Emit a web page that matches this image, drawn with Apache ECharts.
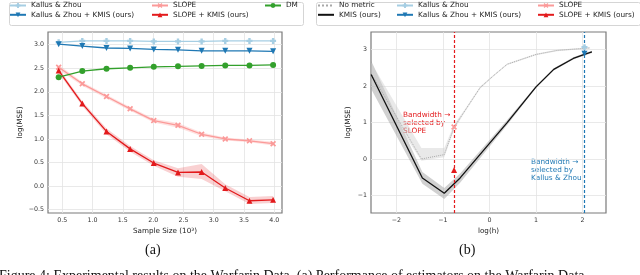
<!DOCTYPE html>
<html><head><meta charset="utf-8">
<script src="https://cdn.jsdelivr.net/npm/echarts@6/dist/echarts.min.js"></script>
<style>html,body{margin:0;padding:0;background:#fff}#c{width:640px;height:275px}</style>
</head><body><div id="c"></div>
<script>
// ---------- Panel (a) data ----------
const sampleSize = [0.44, 0.83, 1.23, 1.62, 2.01, 2.41, 2.80, 3.19, 3.59, 3.98];
const kz        = [3.05, 3.08, 3.08, 3.08, 3.07, 3.07, 3.07, 3.08, 3.08, 3.08];
const kzKmis    = [3.01, 2.97, 2.93, 2.92, 2.90, 2.89, 2.87, 2.87, 2.87, 2.86];
const dm        = [2.31, 2.44, 2.49, 2.51, 2.53, 2.54, 2.55, 2.56, 2.56, 2.57];
const slope     = [2.52, 2.17, 1.90, 1.64, 1.39, 1.29, 1.10, 1.00, 0.96, 0.90];
const slopeLo   = [2.47, 2.13, 1.86, 1.60, 1.35, 1.24, 1.06, 0.97, 0.93, 0.86];
const slopeHi   = [2.57, 2.21, 1.94, 1.68, 1.43, 1.34, 1.14, 1.03, 0.99, 0.94];
const slopeKmis   = [2.45, 1.75, 1.16, 0.79, 0.49, 0.29, 0.30, -0.04, -0.31, -0.29];
const slopeKmisLo = [2.40, 1.70, 1.10, 0.73, 0.43, 0.20, 0.15, -0.11, -0.38, -0.36];
const slopeKmisHi = [2.50, 1.80, 1.22, 0.85, 0.55, 0.38, 0.47, 0.04, -0.23, -0.21];
const aXTicks = [0.5, 1.0, 1.5, 2.0, 2.5, 3.0, 3.5, 4.0];
const aYTicks = [-0.5, 0.0, 0.5, 1.0, 1.5, 2.0, 2.5, 3.0];

// ---------- Panel (b) data ----------
const kmisX  = [-2.54, -1.44, -0.97, -0.63, 0.38, 1.00, 1.38, 1.80, 2.04, 2.20];
const kmisY  = [2.32, -0.52, -0.94, -0.52, 1.00, 1.98, 2.46, 2.76, 2.87, 2.94];
const kmisLo = [1.92, -0.68, -1.10, -0.65, 0.93, 1.95, 2.43, 2.73, 2.84, 2.91];
const kmisHi = [2.70, -0.36, -0.80, -0.40, 1.07, 2.01, 2.49, 2.79, 2.90, 2.97];
const nmX  = [-2.54, -1.46, -0.97, -0.76, -0.53, -0.20, 0.08, 0.38, 1.00, 1.45, 2.16];
const nmY  = [2.35, 0.00, 0.12, 0.87, 1.32, 1.96, 2.28, 2.60, 2.87, 2.98, 3.05];
const nmLo = [2.05, -0.05, 0.05, 0.80, 1.28, 1.93, 2.26, 2.58, 2.85, 2.96, 3.03];
const nmHi = [2.65, 0.30, 0.30, 0.95, 1.36, 1.99, 2.30, 2.62, 2.89, 3.00, 3.07];
const kzBw = 2.04, kzBwMse = 3.07, kzKmisBwMse = 2.89;
const slopeBw = -0.76, slopeBwMse = 0.88, slopeKmisBwMse = -0.30;
const bXTicks = [-2, -1, 0, 1, 2];
const bYTicks = [-1, 0, 1, 2, 3];

const C = {kz:'#a6cee3', kzK:'#1f78b4', sl:'#fb9a99', slK:'#e31a1c', dm:'#33a02c'};
const FONT = 'DejaVu Sans';
const minus = v => String(v).replace('-', '\u2212');
const plusPath = 'path://M3,0H7V3H10V7H7V10H3V7H0V3H3Z';
const xPath = 'path://M2,0L5,3L8,0L10,2L7,5L10,8L8,10L5,7L2,10L0,8L3,5L0,2Z';

function band(xs, lo, hi, color, op, xi, yi, z) {
  return {
    type: 'custom', xAxisIndex: xi, yAxisIndex: yi, z: z || 1, silent: true,
    clip: true,
    data: xs.map((x, i) => [x, lo[i], hi[i]]),
    encode: {x: 0, y: [1, 2]},
    renderItem: (params, api) => {
      if (params.dataIndex !== 0) return null;
      const pts = [];
      for (let i = 0; i < xs.length; i++) pts.push(api.coord([xs[i], hi[i]]));
      for (let i = xs.length - 1; i >= 0; i--) pts.push(api.coord([xs[i], lo[i]]));
      return {type: 'polygon', shape: {points: pts}, style: {fill: color, opacity: op}};
    }
  };
}
function lineS(name, xs, ys, color, symbol, size, xi, yi, extra) {
  return Object.assign({
    name, type: 'line', xAxisIndex: xi, yAxisIndex: yi,
    data: xs.map((x, i) => [x, ys[i]]),
    symbol, symbolSize: size, showSymbol: true,
    lineStyle: {color, width: 1.3}, itemStyle: {color},
    z: 3, animation: false
  }, extra || {});
}

const axisCommon = {
  axisLine: {show: false},
  axisTick: {show: false},
  splitLine: {show: true, lineStyle: {color: '#e3e3e3', width: 0.8}},
  nameTextStyle: {fontFamily: FONT, fontSize: 7.2, color: '#222'}
};
function xAx(grid, min, max, ticks, name, fmt) {
  return Object.assign({}, axisCommon, {
    type: 'value', gridIndex: grid, min, max, name, nameLocation: 'middle', nameGap: 14,
    axisTick: {show: false, customValues: ticks},
    axisLabel: {customValues: ticks, formatter: fmt, fontFamily: FONT, fontSize: 6.3, color: '#333', margin: 4}
  });
}
function yAx(grid, min, max, ticks, name, fmt, gap) {
  return Object.assign({}, axisCommon, {
    type: 'value', gridIndex: grid, min, max, name, nameLocation: 'middle', nameGap: gap,
    axisTick: {show: false, customValues: ticks},
    axisLabel: {customValues: ticks, formatter: fmt, fontFamily: FONT, fontSize: 6.3, color: '#333', margin: 4}
  });
}
const legText = {fontFamily: FONT, fontSize: 7.3, color: '#222'};
function leg(names, left, top) {
  return {orient: 'vertical', left, top, itemWidth: 16, itemHeight: 6, itemGap: 2.3,
    padding: 0, textStyle: legText, data: names, selectedMode: false};
}

const chart = echarts.init(document.getElementById('c'), null, {renderer: 'canvas'});
const fmtA = v => minus(v.toFixed(1));
const fmtB = v => minus(v.toFixed(0));

chart.setOption({
  animation: false,
  grid: [
    {left: 48, top: 32, width: 234, height: 181, show: true, borderColor: '#7a7a7a', borderWidth: 1.2, backgroundColor: 'transparent'},
    {left: 371, top: 32, width: 235, height: 181, show: true, borderColor: '#7a7a7a', borderWidth: 1.2, backgroundColor: 'transparent'}
  ],
  xAxis: [
    xAx(0, 0.264, 4.127, aXTicks, 'Sample Size (10\u00b3)', fmtA),
    xAx(1, -2.543, 2.502, bXTicks, 'log(h)', fmtB)
  ],
  yAxis: [
    yAx(0, -0.570, 3.269, aYTicks, 'log(MSE)', fmtA, 24),
    yAx(1, -1.483, 3.486, bYTicks, 'log(MSE)', fmtB, 19)
  ],
  legend: [
    leg(['Kallus & Zhou', 'Kallus & Zhou + KMIS (ours)'], 9, 2),
    leg(['SLOPE', 'SLOPE + KMIS (ours)'], 151, 2),
    leg(['DM'], 264, 2),
    leg(['No metric', 'KMIS (ours)'], 317, 2),
    leg(['Kallus & Zhou', 'Kallus & Zhou + KMIS (ours)'], 396, 2),
    leg(['SLOPE', 'SLOPE + KMIS (ours)'], 537, 2)
  ],
  series: [
    band(sampleSize, slopeLo, slopeHi, C.sl, 0.3, 0, 0),
    band(sampleSize, slopeKmisLo, slopeKmisHi, C.slK, 0.2, 0, 0),
    lineS('Kallus & Zhou', sampleSize, kz, C.kz, plusPath, 6, 0, 0),
    lineS('Kallus & Zhou + KMIS (ours)', sampleSize, kzKmis, C.kzK, 'triangle', 6, 0, 0, {symbolRotate: 180}),
    lineS('SLOPE', sampleSize, slope, C.sl, xPath, 6, 0, 0),
    lineS('SLOPE + KMIS (ours)', sampleSize, slopeKmis, C.slK, 'triangle', 6, 0, 0),
    lineS('DM', sampleSize, dm, C.dm, 'circle', 6, 0, 0),

    band(kmisX, kmisLo, kmisHi, '#9a9a9a', 0.45, 1, 1),
    band(nmX, nmLo, nmHi, '#cfcfcf', 0.45, 1, 1),
    lineS('No metric', nmX, nmY, '#a8a8a8', 'none', 0, 1, 1, {lineStyle: {color: '#a8a8a8', width: 1, type: 'dotted'}, itemStyle: {color: 'rgba(0,0,0,0)'}}),
    lineS('KMIS (ours)', kmisX, kmisY, '#111', 'none', 0, 1, 1, {lineStyle: {color: '#111', width: 1.3}, itemStyle: {color: 'rgba(0,0,0,0)'}}),
    lineS('Kallus & Zhou', [kzBw], [kzBwMse], C.kz, plusPath, 6, 1, 1, {z: 5}),
    lineS('Kallus & Zhou + KMIS (ours)', [kzBw], [kzKmisBwMse], C.kzK, 'triangle', 6, 1, 1, {symbolRotate: 180, z: 5,
      markLine: {silent: true, symbol: 'none', label: {show: false},
        lineStyle: {color: C.kzK, type: [3, 2], width: 1.2}, data: [{xAxis: kzBw}]}}),
    lineS('SLOPE', [slopeBw], [slopeBwMse], C.sl, xPath, 6, 1, 1, {z: 5}),
    lineS('SLOPE + KMIS (ours)', [slopeBw], [slopeKmisBwMse], C.slK, 'triangle', 6, 1, 1, {z: 5,
      markLine: {silent: true, symbol: 'none', label: {show: false},
        lineStyle: {color: C.slK, type: [3, 2], width: 1.2}, data: [{xAxis: slopeBw}]}})
  ],
  graphic: [
    {type: 'rect', left: 7, top: 0, shape: {width: 294, height: 23, r: 2}, style: {fill: 'none', stroke: '#d5d5d5', lineWidth: 1}, z: -1},
    {type: 'rect', left: 314, top: 0, shape: {width: 324, height: 23, r: 2}, style: {fill: 'none', stroke: '#d5d5d5', lineWidth: 1}, z: -1},
    {type: 'text', left: 403, top: 111, style: {text: 'Bandwidth \u2192\nselected by\nSLOPE', fill: C.slK, font: '7.3px "DejaVu Sans"', lineHeight: 8.2}},
    {type: 'text', left: 531, top: 158, style: {text: 'Bandwidth \u2192\nselected by\nKallus & Zhou', fill: C.kzK, font: '7.3px "DejaVu Sans"', lineHeight: 8.2}},
    {type: 'text', left: 145, top: 243, style: {text: '(a)', fill: '#111', font: '14px "Liberation Serif"'}},
    {type: 'text', left: 459, top: 243, style: {text: '(b)', fill: '#111', font: '14px "Liberation Serif"'}},
    {type: 'text', left: -1, top: 269, style: {text: 'Figure 4: Experimental results on the Warfarin Data. (a) Performance of estimators on the Warfarin Data', fill: '#111', font: '14px "Liberation Serif"'}}
  ]
});
</script></body></html>
